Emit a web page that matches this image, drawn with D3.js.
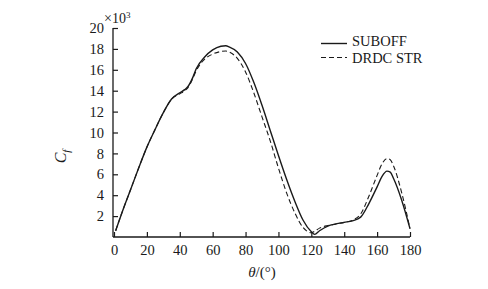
<!DOCTYPE html>
<html>
<head>
<meta charset="utf-8">
<script src="https://cdn.jsdelivr.net/npm/d3@7"></script>
<style>
  body { margin: 0; background: #fff; }
  svg { display: block; font-family: "Liberation Serif", "DejaVu Serif", serif; }
</style>
</head>
<body>
<div id="chart"></div>
<script>
// Data (theta in degrees, Cf in units of 10^3)
const thetaSuboff = [1, 5, 10, 15, 20, 25, 30, 35, 40, 43, 45, 48, 50, 55, 60, 65, 68, 70, 75, 80, 85, 90, 95, 100, 105, 110, 115, 120, 122, 125, 130, 135, 140, 145, 150, 155, 160, 163, 166, 168, 170, 175, 180];
const cfSuboff = [0.6, 2.4, 4.5, 6.6, 8.6, 10.3, 11.9, 13.2, 13.8, 14.1, 14.4, 15.3, 16.1, 17.2, 17.9, 18.25, 18.3, 18.2, 17.7, 16.6, 14.8, 12.6, 10.2, 7.8, 5.5, 3.4, 1.6, 0.5, 0.25, 0.6, 1.05, 1.25, 1.4, 1.55, 1.9, 3.2, 4.8, 5.8, 6.3, 6.2, 5.6, 3.5, 0.8];

const thetaDrdc = [1, 5, 10, 15, 20, 25, 30, 35, 40, 43, 45, 48, 50, 55, 60, 65, 68, 70, 75, 80, 85, 90, 95, 100, 105, 110, 115, 118, 120, 122, 125, 130, 135, 140, 145, 150, 155, 160, 163, 166, 168, 170, 175, 180];
const cfDrdc = [0.6, 2.4, 4.5, 6.6, 8.6, 10.3, 11.9, 13.2, 13.7, 14.0, 14.3, 15.2, 15.9, 17.0, 17.5, 17.75, 17.8, 17.7, 17.1, 15.8, 13.8, 11.5, 9.2, 6.6, 4.2, 2.3, 0.9, 0.5, 0.4, 0.55, 0.85, 1.1, 1.25, 1.4, 1.6, 2.2, 3.9, 5.9, 7.0, 7.5, 7.4, 6.8, 4.2, 0.8];

const xTicks = [0, 20, 40, 60, 80, 100, 120, 140, 160, 180];
const yTicks = [2, 4, 6, 8, 10, 12, 14, 16, 18, 20];
const seriesNames = ["SUBOFF", "DRDC STR"];

const W = 488, H = 289;
const margin = { top: 28, bottom: 52, left: 113, right: 78 };

const svg = d3.select("#chart").append("svg")
  .attr("width", W).attr("height", H);

const x = d3.scaleLinear().domain([0, 180]).range([margin.left + 1, W - margin.right]);
const y = d3.scaleLinear().domain([0, 20]).range([H - margin.bottom, margin.top]);

const ink = "#1a1a1a";

// axes
const gx = svg.append("g")
  .attr("transform", `translate(0,${y(0)})`)
  .call(d3.axisBottom(x).tickValues(xTicks).tickSize(-5).tickPadding(8).tickSizeOuter(0));
const gy = svg.append("g")
  .attr("transform", `translate(${margin.left},0)`)
  .call(d3.axisLeft(y).tickValues(yTicks).tickSize(-5).tickPadding(9).tickSizeOuter(0));

[gx, gy].forEach(g => {
  g.select(".domain").attr("stroke", ink).attr("stroke-width", 1.3);
  g.selectAll(".tick line").attr("stroke", ink).attr("stroke-width", 1.2);
  g.selectAll(".tick text").attr("fill", ink).style("font-size", "14.5px")
    .style("font-family", '"Liberation Serif", serif');
});
// x axis domain should span full width from y axis
gx.select(".domain").attr("d", `M${margin.left},0H${x(180)}`);
gy.select(".domain").attr("d", `M0,${y(0)}V${y(20)}`);

// x10^3 label
const mult = svg.append("text").attr("x", 104).attr("y", 23)
  .attr("fill", ink).style("font-size", "14px");
mult.append("tspan").text("×10");
mult.append("tspan").attr("dy", -5).style("font-size", "9px").text("3");

// axis titles
const yl = svg.append("text")
  .attr("transform", `translate(66,${(y(0) + y(20)) / 2 + 24}) rotate(-90)`)
  .attr("text-anchor", "middle").attr("fill", ink).style("font-size", "16px");
yl.append("tspan").style("font-style", "italic").text("C");
yl.append("tspan").attr("dy", 4).style("font-style", "italic").style("font-size", "11px").text("f");

const xl = svg.append("text")
  .attr("x", (x(0) + x(180)) / 2).attr("y", 277)
  .attr("text-anchor", "middle").attr("fill", ink).style("font-size", "15px");
xl.append("tspan").style("font-style", "italic").text("θ");
xl.append("tspan").text("/(°)");

// lines
const line = d3.line().x(d => x(d[0])).y(d => y(d[1])).curve(d3.curveMonotoneX);

svg.append("path")
  .datum(d3.zip(thetaSuboff, cfSuboff))
  .attr("fill", "none").attr("stroke", ink).attr("stroke-width", 1.4)
  .attr("d", line);

svg.append("path")
  .datum(d3.zip(thetaDrdc, cfDrdc))
  .attr("fill", "none").attr("stroke", ink).attr("stroke-width", 1.1)
  .attr("stroke-dasharray", "5,3")
  .attr("d", line);

// legend
const legend = svg.append("g");
seriesNames.forEach((name, i) => {
  const ly = 43.5 + i * 14;
  legend.append("line")
    .attr("x1", 321).attr("x2", 347).attr("y1", ly).attr("y2", ly)
    .attr("stroke", ink).attr("stroke-width", i === 0 ? 1.4 : 1.1)
    .attr("stroke-dasharray", i === 0 ? null : "5,3");
  legend.append("text")
    .attr("x", 352).attr("y", 46 + i * 17)
    .attr("fill", ink).style("font-size", "14.5px")
    .text(name);
});
</script>
</body>
</html>
